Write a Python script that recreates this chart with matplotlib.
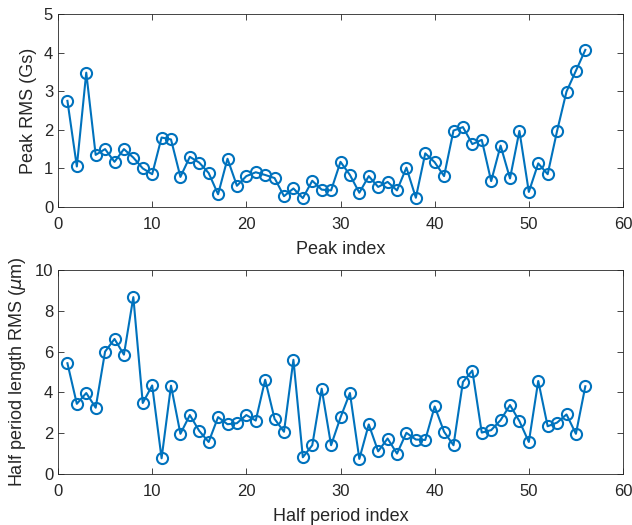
import matplotlib
matplotlib.use('Agg')
import matplotlib.pyplot as plt
import numpy as np

plt.rcParams['font.family'] = ['Liberation Sans', 'DejaVu Sans']

peak_idx = np.arange(1, 57)
peak_rms = [2.75, 1.05, 3.48, 1.35, 1.50, 1.17, 1.50, 1.28, 1.00, 0.85,
            1.80, 1.75, 0.78, 1.30, 1.15, 0.88, 0.33, 1.25, 0.55, 0.80,
            0.90, 0.83, 0.75, 0.28, 0.48, 0.23, 0.68, 0.45, 0.43, 1.17,
            0.83, 0.37, 0.80, 0.52, 0.65, 0.43, 1.02, 0.24, 1.39, 1.16,
            0.80, 1.98, 2.07, 1.63, 1.74, 0.67, 1.59, 0.74, 1.97, 0.39,
            1.13, 0.85, 1.97, 2.99, 3.53, 4.07]

half_idx = np.arange(1, 57)
half_rms = [5.43, 3.44, 3.97, 3.25, 6.00, 6.62, 5.85, 8.67, 3.48, 4.34,
            0.77, 4.33, 1.97, 2.89, 2.11, 1.57, 2.79, 2.44, 2.49, 2.89,
            2.62, 4.62, 2.70, 2.07, 5.60, 0.82, 1.41, 4.18, 1.41, 2.77,
            3.97, 0.74, 2.43, 1.11, 1.74, 1.00, 2.02, 1.69, 1.67, 3.31,
            2.07, 1.41, 4.51, 5.07, 2.03, 2.15, 2.64, 3.38, 2.59, 1.57,
            4.56, 2.34, 2.52, 2.92, 1.97, 4.30]

blue = '#0072BD'
gray = '#262626'

fig = plt.figure(figsize=(6.32, 5.25), dpi=100)
ax1 = fig.add_axes([58/632, 1 - 207/525, 565/632, 193/525])
ax2 = fig.add_axes([58/632, 1 - 474/525, 565/632, 204/525])

for ax, x, y, ymax, yticks, xl, yl in [
        (ax1, peak_idx, peak_rms, 5, [0, 1, 2, 3, 4, 5], 'Peak index', 'Peak RMS (Gs)'),
        (ax2, half_idx, half_rms, 10, [0, 2, 4, 6, 8, 10], 'Half period index',
         r'Half period length RMS ($\mu$m)')]:
    ax.plot(x, y, '-o', color=blue, lw=1.5, markersize=8,
            markerfacecolor='none', markeredgewidth=1.5)
    ax.set_xlim(0, 60)
    ax.set_ylim(0, ymax)
    ax.set_xticks([0, 10, 20, 30, 40, 50, 60])
    ax.set_yticks(yticks)
    ax.tick_params(direction='in', top=True, right=True, labelsize=12,
                   colors=gray, length=4, width=0.6)
    ax.tick_params(axis='x', pad=7)
    for s in ax.spines.values():
        s.set_color(gray)
        s.set_linewidth(0.6)
    ax.set_xlabel(xl, fontsize=13, color=gray, labelpad=7)
    ax.set_ylabel(yl, fontsize=13, color=gray, labelpad=5)

fig.savefig('out.png', dpi=100)
